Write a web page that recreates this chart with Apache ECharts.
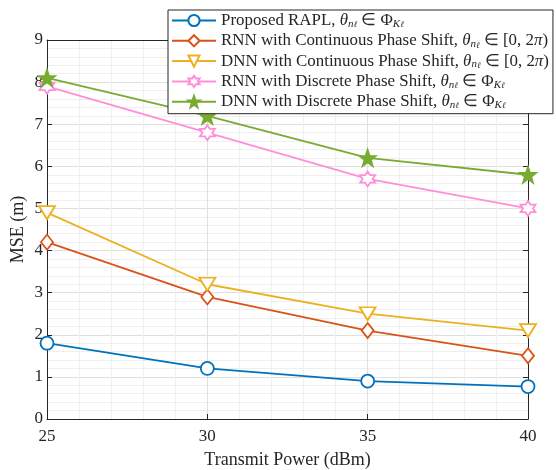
<!DOCTYPE html>
<html><head><meta charset="utf-8">
<script src="https://cdn.jsdelivr.net/npm/echarts@6/dist/echarts.min.js"></script>
<style>html,body{margin:0;padding:0;background:#fff}#c{width:556px;height:470px}</style>
</head><body><div id="c"></div>
<script>
const powers = [25, 30, 35, 40];
const seriesNames = [
  'Proposed RAPL',
  'RNN with Continuous Phase Shift',
  'DNN with Continuous Phase Shift',
  'RNN with Discrete Phase Shift',
  'DNN with Discrete Phase Shift'
];
const proposedRAPL = [1.8, 1.2, 0.9, 0.77];
const rnnContinuous = [4.2, 2.9, 2.1, 1.5];
const dnnContinuous = [4.9, 3.2, 2.5, 2.1];
const rnnDiscrete = [7.9, 6.8, 5.7, 5.0];
const dnnDiscrete = [8.1, 7.2, 6.2, 5.8];
const yTicks = [0,1,2,3,4,5,6,7,8,9];
const xTicks = [25,30,35,40];

const colors = ['#0072BD', '#D95319', '#EDB120', '#FF8FD8', '#77AC30'];
const FONT = 'Liberation Serif';

const hexagram = 'path://M0,-10 L2.9,-5 L8.66,-5 L5.77,0 L8.66,5 L2.9,5 L0,10 L-2.9,5 L-8.66,5 L-5.77,0 L-8.66,-5 L-2.9,-5 Z';
const pentagram = 'path://M0,-10 L2.35,-3.24 L9.51,-3.09 L3.8,1.24 L5.88,8.09 L0,4 L-5.88,8.09 L-3.8,1.24 L-9.51,-3.09 L-2.35,-3.24 Z';

const toPairs = arr => arr.map((v, i) => [powers[i], v]);
const allData = [proposedRAPL, rnnContinuous, dnnContinuous, rnnDiscrete, dnnDiscrete];
const symbols = ['circle', 'diamond', 'triangle', hexagram, pentagram];
const symbolSizes = [13, [12, 15], [16, 13], 15, 16];
const symbolRotates = [0, 0, 180, 0, 0];

const series = allData.map((d, i) => ({
  name: seriesNames[i],
  type: 'line',
  data: toPairs(d),
  symbol: symbols[i],
  symbolSize: symbolSizes[i],
  symbolRotate: symbolRotates[i],
  showAllSymbol: true,
  lineStyle: { color: colors[i], width: 1.8 },
  itemStyle: {
    color: i === 4 ? colors[i] : '#fff',
    borderColor: colors[i],
    borderWidth: 1.8
  },
  emphasis: { disabled: true },
  z: 3
}));

const setMath = '{m|θ}{s|n}{ss|ℓ}{t| ∈ }';
const suffixDiscrete = setMath + '{t|Φ}{s|K}{ss|ℓ}';
const suffixCont = setMath + '{t|[0, 2}{m|π}{t|)}';
const legendSuffix = [suffixDiscrete, suffixCont, suffixCont, suffixDiscrete, suffixDiscrete];

const LF = 16.9;
const chart = echarts.init(document.getElementById('c'), null, { renderer: 'canvas' });
chart.setOption({
  animation: false,
  backgroundColor: '#fff',
  textStyle: { fontFamily: FONT },
  grid: { left: 47, right: 28, top: 40, bottom: 51, containLabel: false, outerBoundsMode: 'none' },
  legend: {
    orient: 'vertical',
    left: 168, top: 10,
    padding: [2, 4, 3, 3],
    itemGap: 2.8,
    itemWidth: 44, itemHeight: 14,
    backgroundColor: '#fff',
    borderColor: '#262626', borderWidth: 1,
    borderRadius: 0,
    data: seriesNames,
    formatter: name => {
      const i = seriesNames.indexOf(name);
      return '{t|' + name + ', }' + legendSuffix[i];
    },
    textStyle: {
      fontFamily: FONT, fontSize: LF, color: '#262626',
      rich: {
        t: { fontFamily: FONT, fontSize: LF, color: '#262626', lineHeight: 17.8 },
        m: { fontFamily: FONT, fontSize: LF, fontStyle: 'italic', color: '#262626', lineHeight: 17.8 },
        s: { fontFamily: FONT, fontSize: 11, fontStyle: 'italic', color: '#262626', verticalAlign: 'bottom', padding: [6, 0, 0, 0] },
        ss: { fontFamily: FONT, fontSize: 8.5, fontStyle: 'italic', color: '#262626', verticalAlign: 'bottom', padding: [9, 0, 0, 0] }
      }
    },
    z: 10
  },
  xAxis: [{
    type: 'value', min: 25, max: 40, interval: 5,
    name: 'Transmit Power (dBm)', nameLocation: 'middle', nameGap: 32,
    nameTextStyle: { fontFamily: FONT, fontSize: 18, color: '#262626' },
    axisLine: { show: true, onZero: false, lineStyle: { color: '#262626', width: 1 } },
    axisTick: { show: true, inside: true, length: 5, lineStyle: { color: '#262626' } },
    minorTick: { show: true, splitNumber: 5, length: 0 },
    axisLabel: { fontFamily: FONT, fontSize: 17, color: '#262626', margin: 9,
      formatter: v => xTicks.includes(v) ? String(v) : '' },
    splitLine: { show: true, lineStyle: { color: '#e0e0e0', width: 1 } },
    minorSplitLine: { show: true, lineStyle: { color: '#efefef', width: 1 } }
  }, {
    type: 'value', min: 25, max: 40, interval: 5, position: 'top',
    axisLine: { show: true, onZero: false, lineStyle: { color: '#262626', width: 1 } },
    axisTick: { show: false }, axisLabel: { show: false }, splitLine: { show: false }
  }],
  yAxis: [{
    type: 'value', min: 0, max: 9, interval: 1,
    name: 'MSE (m)', nameLocation: 'middle', nameGap: 20, nameMoveOverlap: false,
    nameTextStyle: { fontFamily: FONT, fontSize: 18, color: '#262626' },
    axisLine: { show: true, onZero: false, lineStyle: { color: '#262626', width: 1 } },
    axisTick: { show: true, inside: true, length: 5, lineStyle: { color: '#262626' } },
    minorTick: { show: true, splitNumber: 5, length: 0 },
    axisLabel: { fontFamily: FONT, fontSize: 17, color: '#262626', margin: 4,
      formatter: v => yTicks.includes(v) ? String(v) : '' },
    splitLine: { show: true, lineStyle: { color: '#e0e0e0', width: 1 } },
    minorSplitLine: { show: true, lineStyle: { color: '#efefef', width: 1 } }
  }, {
    type: 'value', min: 0, max: 9, interval: 1, position: 'right',
    axisLine: { show: true, onZero: false, lineStyle: { color: '#262626', width: 1 } },
    axisTick: { show: true, inside: true, length: 5, lineStyle: { color: '#262626' } },
    axisLabel: { show: false }, splitLine: { show: false }
  }],
  series: series
});
</script></body></html>
